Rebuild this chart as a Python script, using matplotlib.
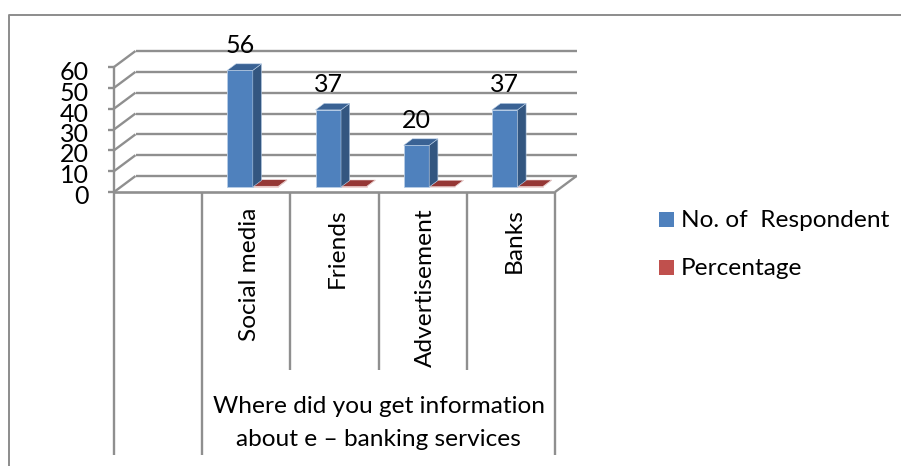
import matplotlib
matplotlib.use("Agg")
import matplotlib.pyplot as plt
from matplotlib.lines import Line2D
from matplotlib.patches import Polygon, Rectangle

categories = ["", "Social media", "Friends", "Advertisement", "Banks"]
respondents = [None, 56, 37, 20, 37]
percentage = [None, 0.37, 0.25, 0.13, 0.25]
y_ticks = [0, 10, 20, 30, 40, 50, 60]
group_label = "Where did you get information\nabout e \u2013 banking services"
series_names = ["No. of  Respondent", "Percentage"]

W, H = 901, 466
GRID = "#8f8f8f"
FONT = "Lato"
FS = 17.6
FS_NUM = 18.0

# plot plane in pixels
X0, X1 = 114, 555
Y0, Y60 = 192, 67
PX_X = (X1 - X0) / len(categories)
PX_Y = (Y0 - Y60) / 60


def fx(px):
    return px / W


def fy(py):
    return 1 - py / H


fig = plt.figure(figsize=(W / 100, H / 100), dpi=100, facecolor="white")
ax = fig.add_axes([fx(X0), fy(Y0), (X1 - X0) / W, (Y0 - Y60) / H])
ax.set_xlim(0, len(categories))
ax.set_ylim(0, 60)
ax.axis("off")

# depth of the box and of the bars, in data units
BOX_DX, BOX_DY = 21.5 / PX_X, 16 / PX_Y
BAR_X, BAR_Y = 6.5 / PX_X, 5 / PX_Y
SIDE_X, SIDE_Y = 8.7 / PX_X, 6.5 / PX_Y
BAR_W = 25.5 / PX_X


def line(xs, ys, lw=1.7):
    ax.plot(xs, ys, color=GRID, lw=lw, clip_on=False, solid_capstyle="butt", zorder=1)


# back wall, left wall and floor
for v in y_ticks:
    line([0, BOX_DX], [v, v + BOX_DY])
    line([BOX_DX, len(categories) + BOX_DX], [v + BOX_DY, v + BOX_DY])
    line([-6 / PX_X, 0], [v, v])
    ax.text(-25 / PX_X, v - (4 + v / 30) / PX_Y, str(v), ha="right", va="center",
            fontsize=FS_NUM, family=FONT, color="black", clip_on=False)
line([0, 0], [0, 60])
line([0, len(categories)], [0, 0], lw=1.9)
line([len(categories), len(categories) + BOX_DX], [0, BOX_DY])

# category separators: the outer level runs further down
for i in range(len(categories) + 1):
    bottom = 455 if i in (0, 1, len(categories)) else 370
    line([i, i], [0, -(bottom - Y0) / PX_Y])


def draw_bars(values, offset, front, side, top, edge):
    for i, v in enumerate(values):
        if v is None:
            continue
        x = i + 0.5 + offset * BAR_W + BAR_X
        ax.bar(x, v, width=BAR_W, bottom=BAR_Y, align="edge", color=front,
               edgecolor=edge, linewidth=0.6, clip_on=False, zorder=3)
        y1 = BAR_Y + v
        ax.add_patch(Polygon([(x + BAR_W, BAR_Y), (x + BAR_W + SIDE_X, BAR_Y + SIDE_Y),
                              (x + BAR_W + SIDE_X, y1 + SIDE_Y), (x + BAR_W, y1)],
                             facecolor=side, edgecolor=edge, lw=0.4, clip_on=False, zorder=3))
        ax.add_patch(Polygon([(x, y1), (x + SIDE_X, y1 + SIDE_Y),
                              (x + BAR_W + SIDE_X, y1 + SIDE_Y), (x + BAR_W, y1)],
                             facecolor=top, edgecolor=edge, lw=0.4, clip_on=False, zorder=3))


draw_bars(percentage, 0, "#C0504D", "#7d302e", "#953735", "#f0dcdb")
draw_bars(respondents, -1, "#4F81BD", "#335680", "#3a6294", "#b7cde6")

# value labels above the blue bars
for i, v in enumerate(respondents):
    if v is None:
        continue
    ax.text(i + 0.5 - BAR_W / 2 + BAR_X, BAR_Y + v + 25 / PX_Y, str(v), ha="center",
            va="center", fontsize=FS_NUM, family=FONT, color="black", clip_on=False)

# rotated category names hang from just below the floor
for i, c in enumerate(categories):
    ax.text(i + 0.5 + 3 / PX_X, -(208 - Y0) / PX_Y, c, rotation=90, ha="center", va="top",
            fontsize=FS, family=FONT, color="black", clip_on=False)

ax.text(3, -(423 - Y0) / PX_Y, group_label, ha="center", va="center", fontsize=FS,
        family=FONT, color="black", linespacing=1.68, clip_on=False)

# legend
legend_colors = ["#4F81BD", "#C0504D"]
for name, color, py in zip(series_names, legend_colors, [219.5, 267.5]):
    fig.add_artist(Rectangle((fx(659), fy(py + 7.5)), 15 / W, 15 / H, facecolor=color,
                             edgecolor="none", transform=fig.transFigure))
    fig.text(fx(681), fy(py + 1), name, ha="left", va="center", fontsize=FS,
             family=FONT, color="black")

# chart frame, cut off at the right and at the bottom
fig.add_artist(Line2D([fx(8.5), fx(8.5), 1], [0, fy(15), fy(15)], color="#8c8c8c",
                      lw=1.4, transform=fig.transFigure))

fig.savefig("out.png", dpi=100, facecolor="white")
